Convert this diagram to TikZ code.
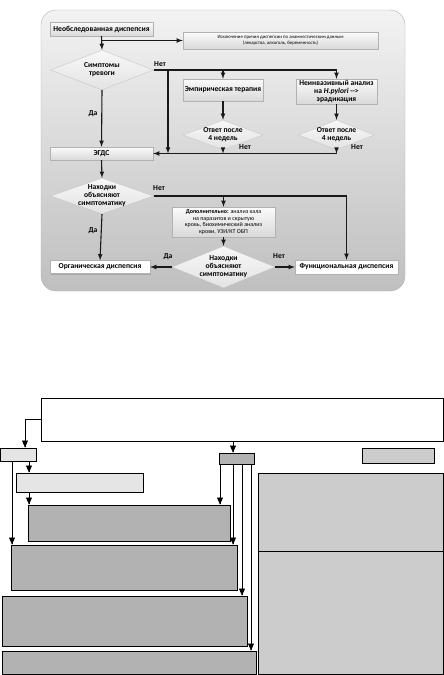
\documentclass[tikz,border=0pt]{standalone}
\usepackage{fontspec}
\setmainfont{Carlito}
\usetikzlibrary{arrows}
\usetikzlibrary{shapes.geometric,shadows}

\newcommand\bsz{\fontsize{7.6}{8}\selectfont\bfseries}
\newcommand\ssz{\fontsize{6}{6.8}\selectfont}
\newcommand\tsz{\fontsize{4.8}{5.6}\selectfont}

\tikzset{
  grbox/.style={rectangle,draw=gray!60,top color=gray!3,bottom color=gray!30,inner sep=1pt,
    align=center,font=\bsz,drop shadow={opacity=.4,shadow xshift=1pt,shadow yshift=-1pt}},
  endbox/.style={grbox,top color=white,bottom color=white},
  dia/.style={diamond,draw=gray!45,top color=gray!6,bottom color=gray!22,inner sep=0pt},
  dtxt/.style={align=center,font=\bsz},
  lbl/.style={font=\bsz,inner sep=0pt},
  arr/.style={-latex,line width=1.1pt,draw=black!90},
  blk/.style={draw,line width=.7pt,inner sep=0pt},
  tri/.style={-triangle 45,line width=.6pt}
}

\begin{document}
\begin{tikzpicture}[x=1pt,y=-1pt]
\useasboundingbox (0,0) rectangle (444,675);

% upper scheme
\draw[draw=gray!60,top color=gray!10,bottom color=gray!50,rounded corners=15pt] (41,10) rectangle (405,291);

\node[grbox,minimum width=103pt,minimum height=14pt] (n1) at (101.5,29) {Необследованная диспепсия};
\node[grbox,font=\tsz,minimum width=195pt,minimum height=17pt] (ex) at (280.5,40.5)
  {Исключение причин диспепсии по анамнестическим данным\\(лекарства, алкоголь, беременность)};
\node[dia,minimum width=103pt,minimum height=40pt,label={[dtxt]center:{Симптомы\\тревоги}}] (d1) at (102,70) {};
\node[grbox,minimum width=80pt,minimum height=22pt] (emp) at (223,90) {Эмпирическая терапия};
\node[grbox,minimum width=81pt,minimum height=25pt] (hp) at (336.5,91.5)
  {Неинвазивный анализ\\на \textit{H.pylori} {-}{-}>\\эрадикация};
\node[dia,minimum width=80pt,minimum height=30pt,label={[dtxt]center:{Ответ после\\4 недель}}] (d2) at (223,135) {};
\node[dia,minimum width=76pt,minimum height=30pt,label={[dtxt]center:{Ответ после\\4 недель}}] (d3) at (336.5,135) {};
\node[grbox,minimum width=103pt,minimum height=13pt] (egds) at (101.5,153.5) {ЭГДС};
\node[dia,minimum width=103pt,minimum height=36pt,label={[dtxt]center:{Находки\\объясняют\\симптоматику}}] (d4) at (102,196) {};
\node[grbox,font=\ssz,minimum width=103pt,minimum height=30pt] (dop) at (223.5,222)
  {\textbf{Дополнительно:} анализ кала\\на паразитов и скрытую\\кровь, биохимический анализ\\крови, УЗИ/КТ ОБП};
\node[dia,minimum width=103pt,minimum height=42pt,label={[dtxt]center:{Находки\\объясняют\\симптоматику}}] (d5) at (223.5,267) {};
\node[endbox,minimum width=100pt,minimum height=13pt] (org) at (100,267) {Органическая диспепсия};
\node[endbox,minimum width=103pt,minimum height=14pt] (fun) at (346.5,267) {Функциональная диспепсия};

\node[lbl] (no1) at (160,64) {Нет};
\node[lbl] (no2) at (245,147) {Нет};
\node[lbl] (no3) at (357,147) {Нет};
\node[lbl] (no4) at (159,188) {Нет};
\node[lbl] (no5) at (279,256) {Нет};
\node[lbl] (da1) at (93,114) {Да};
\node[lbl] (da2) at (93,231) {Да};
\node[lbl] (da3) at (168,257) {Да};

\coordinate (r1) at (168,0);
\draw[arr] (n1.south) -- (d1.north);
\draw[arr] (n1.south |- ex.west) -- (ex.west);
\draw[arr] (d1.east) -| (hp.north);
\draw[arr] (d1.east -| emp.north) -- (emp.north);
\draw[arr] (d1.east -| r1) -- (egds.east -| r1);
\draw[arr] (d1.south) -- (egds.north);
\foreach \from/\to in {emp/d2, hp/d3, egds/d4, dop/d5, d4/org}
  \draw[arr] (\from.south) -- (\to.north);
\draw[arr] (d2.south) -- (d2.south |- egds.east);
\draw[arr] (d3.south) -- (d3.south |- egds.east);
\draw[arr] (d3.south |- egds.east) -- (egds.east);
\draw[arr] (d4.east) -| (fun.north);
\draw[arr] (d4.east -| dop.north) -- (dop.north);
\draw[arr] (d5.west) -- (org.east);
\draw[arr] (d5.east) -- (fun.west);

% lower scheme
\node[blk,minimum width=402pt,minimum height=43pt] (big) at (242,419.5) {};
\node[blk,fill=black!10,minimum width=36pt,minimum height=13pt] (b1) at (18,454.5) {};
\node[blk,fill=black!10,minimum width=127pt,minimum height=19pt] (b2) at (79.5,482.5) {};
\node[blk,fill=black!30,minimum width=202pt,minimum height=36pt] (b3) at (129,523) {};
\node[blk,fill=black!30,minimum width=226pt,minimum height=45pt] (b4) at (124,567.5) {};
\node[blk,fill=black!30,minimum width=245pt,minimum height=50pt] (b5) at (124.5,621) {};
\node[blk,fill=black!30,minimum width=254pt,minimum height=23pt] (b6) at (129,662.5) {};
\node[blk,fill=black!30,minimum width=35pt,minimum height=11pt] (c1) at (236.5,458.5) {};
\node[blk,fill=black!20,minimum width=72pt,minimum height=15pt] (q1) at (398,455.5) {};
\node[blk,fill=black!20,minimum width=185pt,minimum height=78pt] (q2) at (350.5,512) {};
\node[blk,fill=black!20,minimum width=185pt,minimum height=123pt] (q3) at (350.5,612.5) {};

\coordinate (xa) at (25,0);
\coordinate (xb) at (29,0);
\coordinate (xc) at (12,0);
\coordinate (x1) at (220,0);
\coordinate (x2) at (233,0);
\coordinate (x3) at (242,0);
\coordinate (x4) at (251,0);
\draw[tri] (big.west) -| (b1.north -| xa);
\draw[tri] (b1.south -| xb) -- (b2.north -| xb);
\draw[tri] (b2.south -| xb) -- (b3.north -| xb);
\draw[tri] (b1.south -| xc) -- (b4.north -| xc);
\draw[tri] (big.south -| x2) -- (c1.north -| x2);
\foreach \x/\to in {x1/b3, x2/b4, x3/b5, x4/b6}
  \draw[tri] (c1.south -| \x) -- (\to.north -| \x);
\end{tikzpicture}
\end{document}
